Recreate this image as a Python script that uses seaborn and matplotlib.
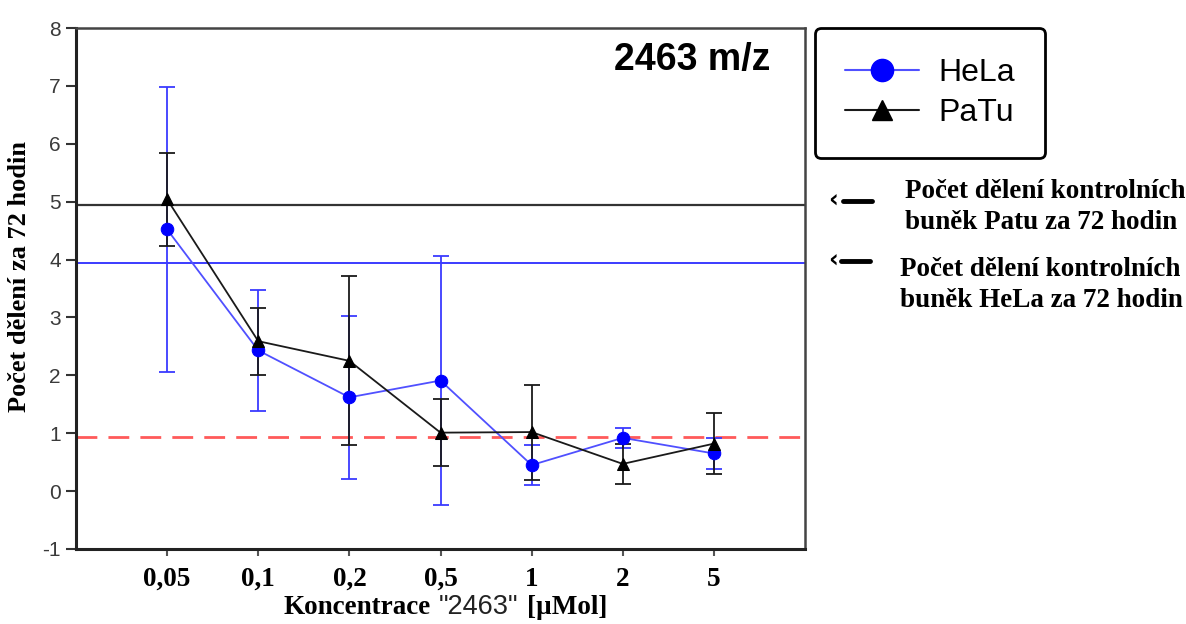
import numpy as np
import pandas as pd
import seaborn as sns
import matplotlib
matplotlib.use("Agg")
import matplotlib.pyplot as plt
from matplotlib.lines import Line2D
from matplotlib.offsetbox import TextArea, HPacker, AnchoredOffsetbox

# ---- data ----
concentrations = ["0,05", "0,1", "0,2", "0,5", "1", "2", "5"]
hela_mean = [4.52, 2.43, 1.62, 1.91, 0.45, 0.92, 0.65]
hela_err = [2.46, 1.05, 1.41, 2.15, 0.34, 0.17, 0.26]
patu_mean = [5.04, 2.59, 2.25, 1.01, 1.02, 0.47, 0.82]
patu_err = [0.80, 0.58, 1.46, 0.58, 0.82, 0.35, 0.53]
control_patu = 4.94
control_hela = 3.94
threshold = 0.94

sns.set_theme(style="white")
plt.rcParams["font.family"] = ["Liberation Sans", "DejaVu Sans"]
plt.rcParams["text.color"] = "black"

fig = plt.figure(figsize=(11.86, 6.24), dpi=100)
ax = fig.add_axes([76/1186, 1-549/624, (805-76)/1186, (549-28)/624])

pos = np.arange(1, len(concentrations) + 1)
df = pd.DataFrame({
    "pos": np.concatenate([pos, pos]),
    "val": hela_mean + patu_mean,
    "line": ["HeLa"] * len(pos) + ["PaTu"] * len(pos),
})

blue = "#3a3aff"
black = "#1a1a1a"

# reference lines
ax.axhline(control_patu, color="#333333", lw=1.6, zorder=1)
ax.axhline(control_hela, color="#3b3bff", lw=1.4, zorder=1)
ax.axhline(threshold, color="#ff5a5a", lw=2.0, ls=(0, (7.5, 4)), zorder=1)

# error bars
ax.errorbar(pos, hela_mean, yerr=hela_err, fmt="none", ecolor=blue, elinewidth=1.3,
            capsize=6, capthick=1.3, zorder=2)
ax.errorbar(pos, patu_mean, yerr=patu_err, fmt="none", ecolor=black, elinewidth=1.3,
            capsize=6, capthick=1.3, zorder=3)

sns.lineplot(data=df[df.line == "HeLa"], x="pos", y="val", ax=ax, color="#5050ff",
             lw=1.3, marker="o", markersize=9, markerfacecolor="#0000ff",
             markeredgecolor="#0000ff", zorder=4, legend=False)
sns.lineplot(data=df[df.line == "PaTu"], x="pos", y="val", ax=ax, color=black,
             lw=1.3, marker="^", markersize=9, markerfacecolor="black",
             markeredgecolor="black", zorder=5, legend=False)

ax.set_xlim(0, 8)
ax.set_ylim(-1, 8)
ax.set_xticks(pos)
ax.set_xticklabels(concentrations, family="Liberation Serif", weight="bold",
                   fontsize=19.5, color="black")
ax.set_yticks(range(-1, 9))
ax.set_yticklabels([str(v) for v in range(-1, 9)], fontsize=15, color="#3a3a3a")
ax.tick_params(axis="y", direction="out", length=7, width=1.5, color="#333333",
               left=True, pad=4)
ax.tick_params(axis="x", direction="out", length=5, width=1.5, color="#555555",
               bottom=True, pad=8)
ax.set_xlabel("")
ax.set_ylabel("")

for side in ["left", "bottom"]:
    ax.spines[side].set_color("#222222")
    ax.spines[side].set_linewidth(2.2)
for side in ["top", "right"]:
    ax.spines[side].set_color("#444444")
    ax.spines[side].set_linewidth(1.8)

# title inside the axes
ax.text(0.953, 0.939, "2463 m/z", transform=ax.transAxes, ha="right", va="center",
        fontsize=27, weight="bold", color="black", family="Liberation Sans")

# y label
fig.text(20/1186, 1-277/624, "Počet dělení za 72 hodin", rotation=90,
         ha="center", va="center", family="Liberation Serif", weight="bold",
         fontsize=19, color="black")

# x label (mixed fonts)
parts = [
    TextArea("Koncentrace", textprops=dict(family="Liberation Serif", weight="bold",
                                           size=19.5, color="black")),
    TextArea('"2463"', textprops=dict(family="Liberation Sans", size=19.5, color="#222222")),
    TextArea("[µMol]", textprops=dict(family="Liberation Serif", weight="bold",
                                      size=19.5, color="black")),
]
pack = HPacker(children=parts, align="baseline", pad=0, sep=6)
anch = AnchoredOffsetbox(loc="center", child=pack, frameon=False,
                         bbox_to_anchor=(445/1186, 1-607/624),
                         bbox_transform=fig.transFigure, pad=0, borderpad=0)
fig.add_artist(anch)

# legend
handles = [
    Line2D([], [], color="#5050ff", lw=1.5, marker="o", markersize=16,
           markerfacecolor="#0000ff", markeredgecolor="#0000ff"),
    Line2D([], [], color=black, lw=1.5, marker="^", markersize=15,
           markerfacecolor="black", markeredgecolor="black"),
]
leg = ax.legend(handles, ["HeLa", "PaTu"], loc="upper left",
                bbox_to_anchor=(815/1186, 1-28/624), bbox_transform=fig.transFigure,
                fontsize=23, frameon=True, fancybox=True, handlelength=2.3,
                handletextpad=0.6, borderpad=0.95, labelspacing=0.3,
                borderaxespad=0, labelcolor="black")
leg.get_frame().set_edgecolor("black")
leg.get_frame().set_linewidth(2.0)
leg.get_frame().set_alpha(1)

# side annotations
ann_props = dict(family="Liberation Serif", weight="bold", fontsize=19.5,
                 color="black", ha="left", va="center", linespacing=1.3)
fig.text(905/1186, 1-207/624, "Počet dělení kontrolních\nbuněk Patu za 72 hodin", **ann_props)
fig.text(900/1186, 1-285/624, "Počet dělení kontrolních\nbuněk HeLa za 72 hodin", **ann_props)
for (xa, xd0, xd1, yy) in [(833, 843, 872, 201), (833, 841, 870, 261)]:
    fig.text(xa/1186, 1-yy/624, "‹", family="DejaVu Sans", weight="bold",
             fontsize=17, ha="center", va="center", color="black")
    fig.add_artist(Line2D([xd0/1186, xd1/1186], [1-yy/624, 1-yy/624],
                          transform=fig.transFigure, color="black", lw=3.5))

fig.savefig("out.png", dpi=100)
